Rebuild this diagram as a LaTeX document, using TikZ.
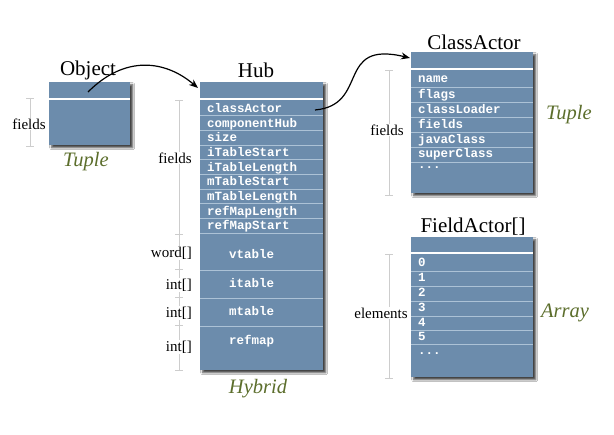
\documentclass[tikz,border=0pt]{standalone}
\usepackage{fontspec}
\setmainfont{Liberation Serif}
\setmonofont{Liberation Mono}
\usetikzlibrary{shadows.blur,arrows.meta}
\definecolor{boxblue}{RGB}{108,140,172}
\definecolor{sepblue}{RGB}{172,194,214}
\definecolor{olive}{RGB}{92,110,44}
\definecolor{brk}{RGB}{205,205,205}
\tikzset{
  membox/.style={fill=boxblue,draw=none,inner sep=0pt,
    blur shadow={shadow xshift=2.5pt,shadow yshift=-2.5pt,shadow blur radius=2pt,shadow opacity=75}},
  sepline/.style={draw=sepblue,line width=0.8pt},
  hdrline/.style={draw=white,line width=2pt},
  fld/.style={anchor=west,inner sep=0pt,text height=8pt,text depth=2.5pt,text=white,font=\fontsize{12.5}{13}\ttfamily\bfseries},
  dots/.style={anchor=base west,inner sep=0pt,text=white,font=\fontsize{12.5}{13}\ttfamily\bfseries},
  title/.style={inner sep=0pt,font=\fontsize{21}{24}\selectfont},
  kind/.style={inner sep=0pt,text=olive,font=\fontsize{20.5}{23}\itshape},
  side/.style={inner sep=1pt,fill=white,font=\fontsize{15}{17}\selectfont},
  brkline/.style={draw=brk,line width=0.8pt},
  ptr/.style={draw=black,line width=1.2pt,-{Stealth[length=9pt,width=7pt]}}
}
\begin{document}
\begin{tikzpicture}[x=1pt,y=-1pt]
\useasboundingbox[fill=white] (0,0) rectangle (614,435);

% ---------- brackets (behind labels) ----------
\draw[brkline] (26,98) -- (34,98) (30,98) -- (30,146) (26,146) -- (34,146);
\draw[brkline] (175,100) -- (183,100) (179,100) -- (179,370) (175,370) -- (183,370);
\foreach \yy in {234,269,297,325} \draw[brkline] (175,\yy) -- (183,\yy);
\draw[brkline] (385,70) -- (393,70) (389,70) -- (389,195) (385,195) -- (393,195);
\draw[brkline] (385,254) -- (393,254) (389,254) -- (389,378) (385,378) -- (393,378);

% ---------- Object ----------
\node[membox,minimum width=81pt,minimum height=63pt,anchor=north west] (obj) at (49,82) {};
\draw[hdrline] (49,99.5) -- (130,99.5);
\node[title] (objt) at (88,70) {Object};
\node[side] (objf) at (29,124) {fields};
\node[kind] (objk) at (86,162) {Tuple};

% ---------- Hub ----------
\node[membox,minimum width=123pt,minimum height=288pt,anchor=north west] (hub) at (200,82) {};
\draw[hdrline] (200,99.5) -- (323,99.5);
\foreach \k in {1,2,3,4,5,6,7,8,9} \draw[sepline] (200,{101+\k*14.67}) -- (323,{101+\k*14.67});
\foreach \yy in {270,298,326} \draw[sepline] (200,\yy) -- (323,\yy);
\foreach [count=\k] \t in {classActor,componentHub,size,iTableStart,iTableLength,mTableStart,mTableLength,refMapLength,refMapStart}
  \node[fld] (hubf\k) at (207,{102.5+(\k-0.5)*14.67}) {\t};
\node[fld] (hubvt) at (229,256) {vtable};
\node[fld] (hubit) at (229,285) {itable};
\node[fld] (hubmt) at (229,313) {mtable};
\node[fld] (hubrm) at (229,342) {refmap};
\node[title] (hubt) at (256,70) {Hub};
\node[side,anchor=east] (hubfl) at (193,158) {fields};
\node[side,anchor=east] (hubw) at (193,253) {word[]};
\node[side,anchor=east] (hubi1) at (193,285) {int[]};
\node[side,anchor=east] (hubi2) at (193,313) {int[]};
\node[side,anchor=east] (hubi3) at (193,347) {int[]};
\node[kind] (hubk) at (258,389) {Hybrid};

% ---------- ClassActor ----------
\node[membox,minimum width=122pt,minimum height=141pt,anchor=north west] (ca) at (411,52) {};
\draw[hdrline] (411,69) -- (533,69);
\foreach \yy in {87,102,117,132,147,162} \draw[sepline] (411,\yy) -- (533,\yy);
\node[fld] (caf1) at (418,79.5) {name};
\node[fld] (caf2) at (418,95.5) {flags};
\node[fld] (caf3) at (418,110.5) {classLoader};
\node[fld] (caf4) at (418,125.5) {fields};
\node[fld] (caf5) at (418,140.5) {javaClass};
\node[fld] (caf6) at (418,155) {superClass};
\node[dots] (caf7) at (418,169) {...};
\node[title] (cat) at (474,42) {ClassActor};
\node[side] (cafl) at (387,130) {fields};
\node[kind] (cak) at (569,115) {Tuple};

% ---------- FieldActor[] ----------
\node[membox,minimum width=122pt,minimum height=140pt,anchor=north west] (fa) at (411,237) {};
\draw[hdrline] (411,253) -- (533,253);
\foreach \yy in {271,286,301,316,330,344} \draw[sepline] (411,\yy) -- (533,\yy);
\node[fld] (fae0) at (418,263.5) {0};
\node[fld] (fae1) at (418,279) {1};
\node[fld] (fae2) at (418,294) {2};
\node[fld] (fae3) at (418,309) {3};
\node[fld] (fae4) at (418,323.5) {4};
\node[fld] (fae5) at (418,337.5) {5};
\node[dots] (fae6) at (418,355) {...};
\node[title] (fat) at (473,227) {FieldActor[]};
\node[side] (fael) at (381,313) {elements};
\node[kind] (fak) at (565,313) {Array};

% ---------- pointers ----------
\coordinate (objptr) at (88,92);
\coordinate (hubin) at (198,88);
\coordinate (captr) at (315,110);
\coordinate (cain) at (410,58);
\draw[ptr] (objptr) .. controls (125,55) and (165,60) .. (hubin);
\draw[ptr] (captr) .. controls (370,105) and (335,40) .. (cain);
\end{tikzpicture}
\end{document}
